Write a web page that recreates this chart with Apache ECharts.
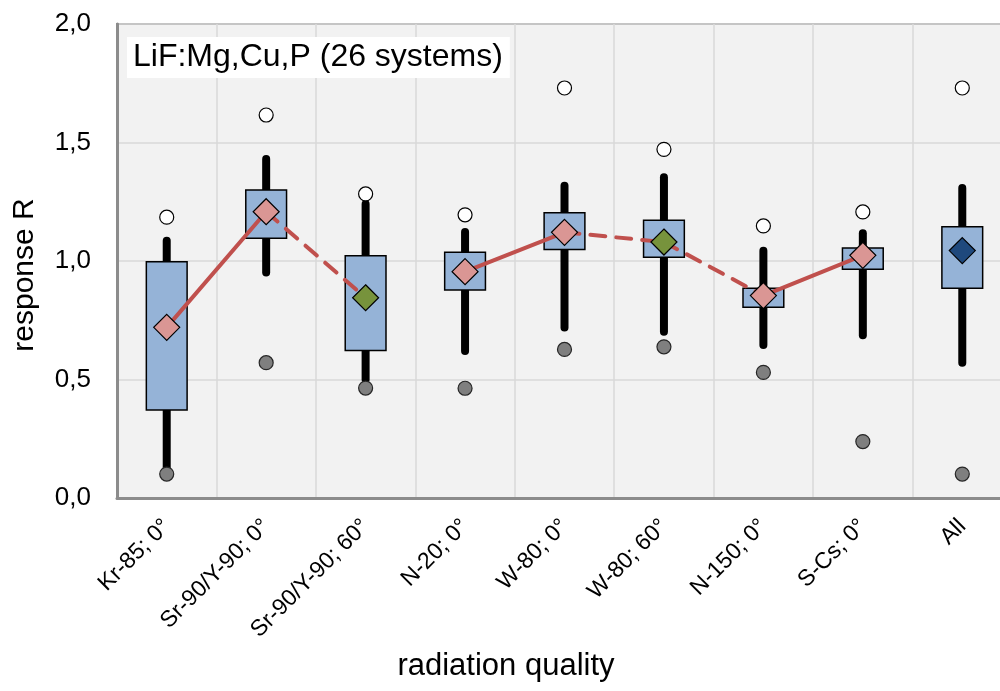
<!DOCTYPE html>
<html>
<head>
<meta charset="utf-8">
<script src="https://cdn.jsdelivr.net/npm/echarts@6/dist/echarts.min.js"></script>
<style>html,body{margin:0;padding:0;background:#fff;overflow:hidden}#c{width:1012px;height:691px}</style>
</head>
<body>
<div id="c"></div>
<script>
// ---- data ----
const categories = ['Kr-85; 0°','Sr-90/Y-90; 0°','Sr-90/Y-90; 60°','N-20; 0°','W-80; 0°','W-80; 60°','N-150; 0°','S-Cs; 0°','All'];
const maxOutlier  = [1.185, 1.616, 1.283, 1.195, 1.730, 1.471, 1.148, 1.207, 1.730];
const whiskerHigh = [1.085, 1.430, 1.240, 1.122, 1.318, 1.353, 1.043, 1.117, 1.308];
const q3          = [0.997, 1.300, 1.022, 1.037, 1.204, 1.172, 0.885, 1.055, 1.145];
const meanR       = [0.720, 1.208, 0.845, 0.955, 1.121, 1.080, 0.854, 1.024, 1.044];
const q1          = [0.371, 1.096, 0.622, 0.878, 1.049, 1.016, 0.805, 0.965, 0.885];
const whiskerLow  = [0.118, 0.951, 0.500, 0.620, 0.719, 0.702, 0.646, 0.687, 0.571];
const minOutlier  = [0.101, 0.571, 0.464, 0.463, 0.627, 0.638, 0.530, 0.238, 0.101];
const meanGroup   = ['pink','pink','green','pink','pink','green','pink','pink','blue'];
// line connections: solid segments and dashed segments (index pairs)
const solidLinks  = [[0,1],[3,4],[6,7]];
const dashedLinks = [[1,2],[4,5],[5,6]];
const yTicks = [0, 0.5, 1.0, 1.5, 2.0];

const groupColor = {pink:'#DA9694', green:'#77933C', blue:'#1F497D'};
function linkData(links){
  const out = [];
  links.forEach(([a,b]) => { out.push([a, meanR[a]], [b, meanR[b]], [b, null]); });
  return out;
}
const FONT = '"Liberation Sans", Arial, sans-serif';

const chart = echarts.init(document.getElementById('c'), null, {renderer:'canvas'});
chart.setOption({
  animation:false,
  title:{
    text:'LiF:Mg,Cu,P (26 systems)',
    left:127, top:37,
    backgroundColor:'#ffffff',
    padding:[4,7,5,6],
    textStyle:{fontFamily:FONT, fontSize:32, fontWeight:'normal', color:'#000'}
  },
  graphic:[
    {type:'text', left:'center', top:651, z:10,
     style:{text:'radiation quality', fontFamily:FONT, fontSize:31, fill:'#000'}},
    {type:'text', x:25, y:275, rotation:Math.PI/2, z:10,
     style:{text:'response R', fontFamily:FONT, fontSize:30, fill:'#000', align:'center', verticalAlign:'middle'}}
  ],
  grid:{left:117, top:24, width:895, height:474, show:true, containLabel:false, outerBoundsMode:'none',
        backgroundColor:'#F2F2F2', borderColor:'#8C8C8C', borderWidth:2},
  xAxis:{
    type:'category', data:categories, boundaryGap:true,
    axisLine:{lineStyle:{color:'#8C8C8C', width:3}},
    axisTick:{show:false},
    axisLabel:{rotate:45, fontFamily:FONT, fontSize:23, color:'#000', margin:25, interval:0},
    splitLine:{show:true, interval:0, lineStyle:{color:'#D9D9D9', width:1.5}}
  },
  yAxis:{
    type:'value', min:0, max:2, interval:0.5,
    axisLine:{show:true, lineStyle:{color:'#8C8C8C', width:3}},
    axisTick:{show:false},
    axisLabel:{fontFamily:FONT, fontSize:26, color:'#000', margin:26,
      formatter:v => v.toFixed(1).replace('.',',')},
    splitLine:{show:true, lineStyle:{color:'#D9D9D9', width:1.5}}
  },
  series:[
    {
      type:'custom', name:'whisker', z:2,
      data:categories.map((c,i)=>[i, whiskerLow[i], whiskerHigh[i]]),
      renderItem:(params, api)=>{
        const lo = api.coord([api.value(0), api.value(1)]);
        const hi = api.coord([api.value(0), api.value(2)]);
        return {type:'line', shape:{x1:lo[0], y1:lo[1], x2:hi[0], y2:hi[1]},
          style:{stroke:'#000', lineWidth:8, lineCap:'round'}};
      }
    },
    {
      type:'custom', name:'box', z:3,
      data:categories.map((c,i)=>[i, q1[i], q3[i]]),
      renderItem:(params, api)=>{
        const lo = api.coord([api.value(0), api.value(1)]);
        const hi = api.coord([api.value(0), api.value(2)]);
        const w = api.size([1,0])[0]*0.41;
        return {type:'rect', shape:{x:lo[0]-w/2, y:hi[1], width:w, height:lo[1]-hi[1]},
          style:{fill:'#95B3D7', stroke:'#000', lineWidth:1.5}};
      }
    },
    {
      type:'line', name:'solid', z:4, data:linkData(solidLinks), connectNulls:false,
      symbol:'none', lineStyle:{color:'#C0504D', width:4}
    },
    {
      type:'line', name:'dashed', z:4, data:linkData(dashedLinks), connectNulls:false,
      symbol:'none', lineStyle:{color:'#C0504D', width:4, type:[15,11], cap:'round'}
    },
    {
      type:'scatter', name:'mean', z:6, symbol:'diamond', symbolSize:[26,26],
      data:categories.map((c,i)=>({value:[i, meanR[i]], itemStyle:{color:groupColor[meanGroup[i]]}})),
      itemStyle:{borderColor:'#000', borderWidth:1.2, opacity:1}
    },
    {
      type:'scatter', name:'max', z:6, symbol:'circle', symbolSize:14,
      data:categories.map((c,i)=>[i, maxOutlier[i]]),
      itemStyle:{color:'#ffffff', borderColor:'#000', borderWidth:1.2, opacity:1}
    },
    {
      type:'scatter', name:'min', z:6, symbol:'circle', symbolSize:14,
      data:categories.map((c,i)=>[i, minOutlier[i]]),
      itemStyle:{color:'#7F7F7F', borderColor:'#262626', borderWidth:1.2, opacity:1}
    }
  ]
});
</script>
</body>
</html>
